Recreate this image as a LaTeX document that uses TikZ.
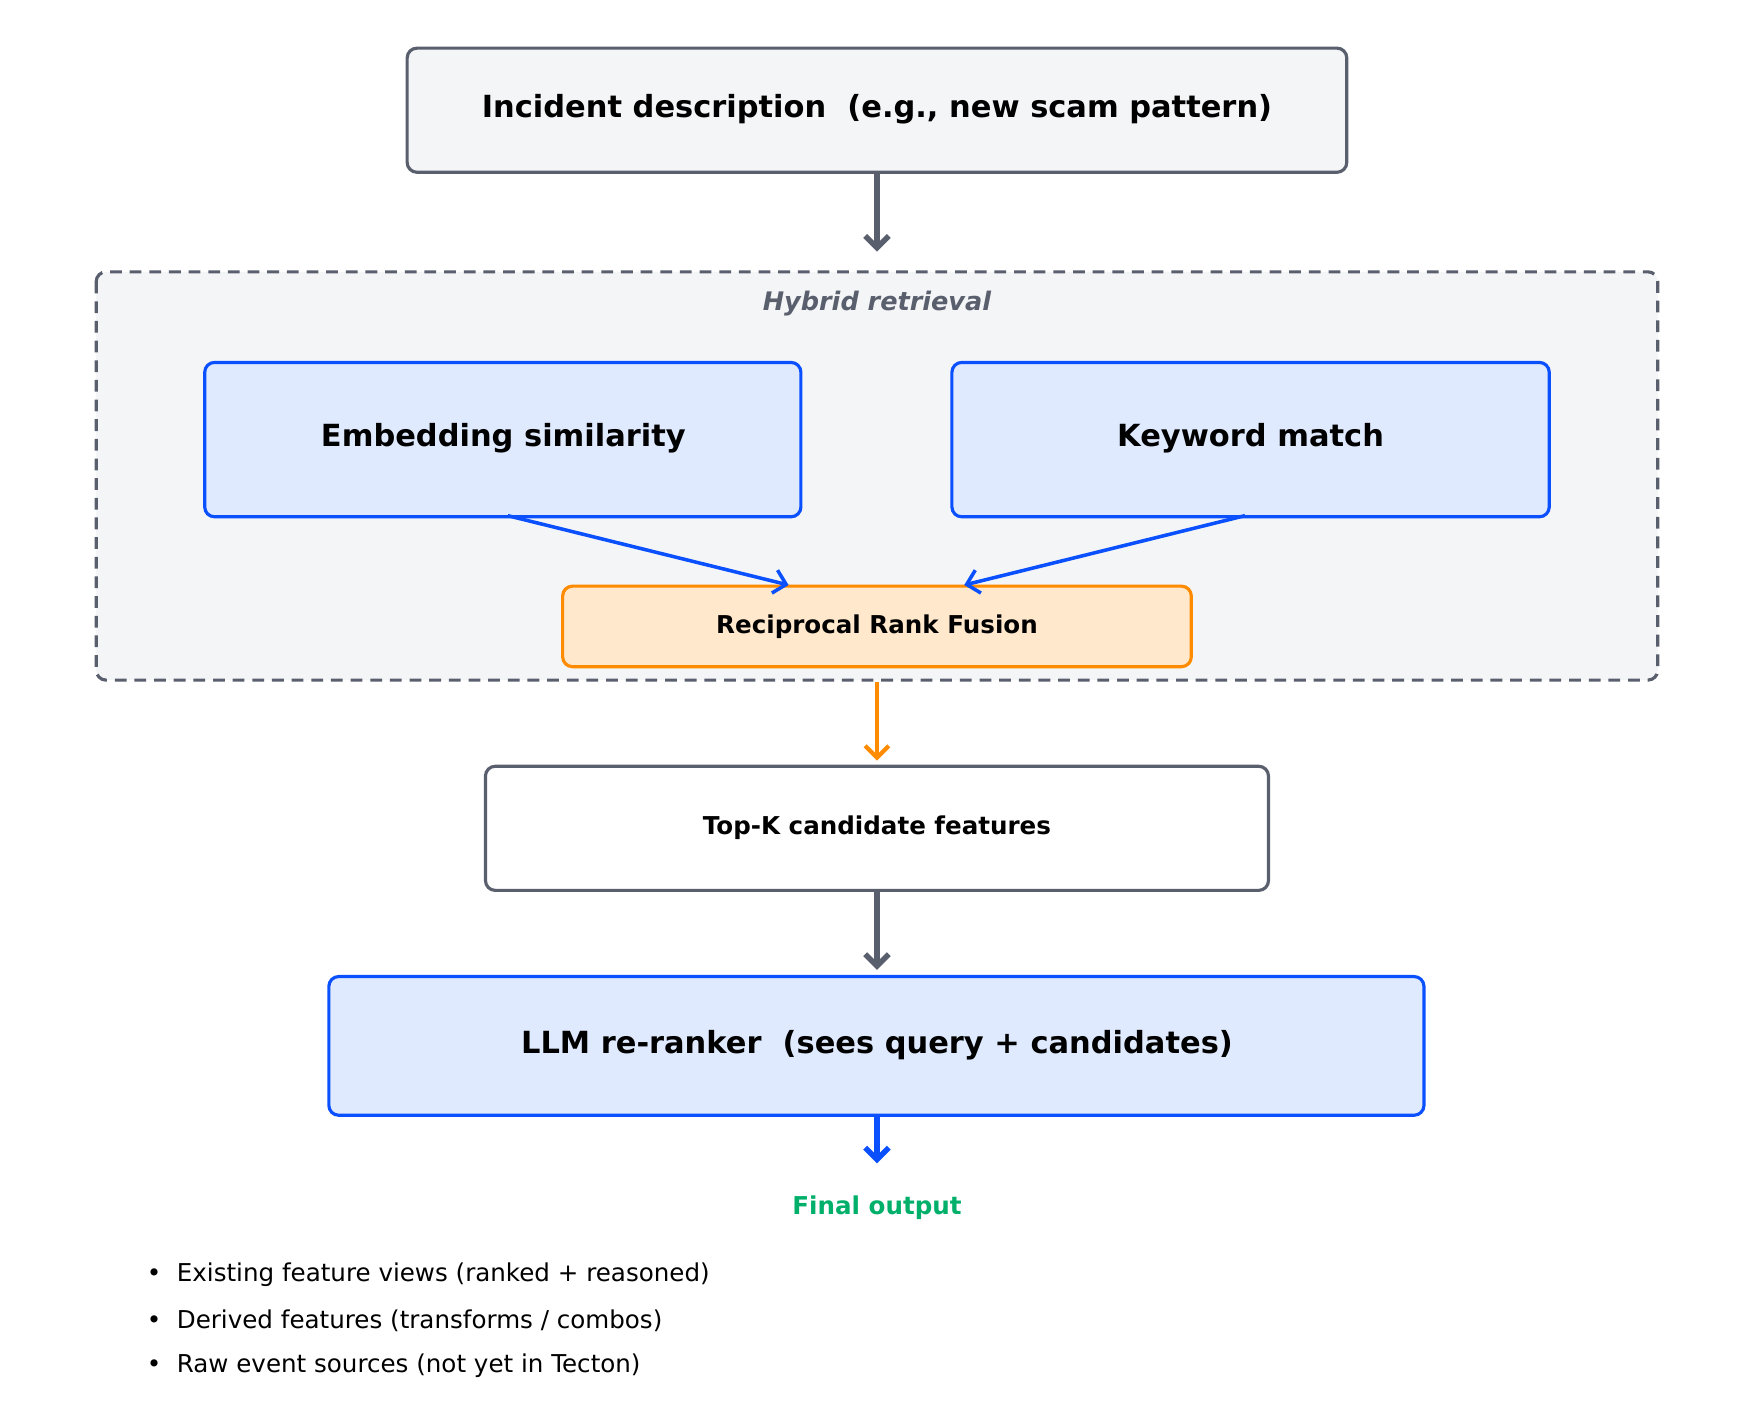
\documentclass[tikz,border=0pt]{standalone}
\usepackage{fontspec}
\setmainfont{DejaVu Sans}
\usetikzlibrary{arrows.meta}
\definecolor{gr}{HTML}{5A5F6E}
\definecolor{grf}{HTML}{F4F5F7}
\definecolor{bl}{HTML}{0A50FF}
\definecolor{blf}{HTML}{DFEAFE}
\definecolor{or}{HTML}{FF8C00}
\definecolor{orf}{HTML}{FFE8CC}
\definecolor{gn}{HTML}{00B06A}
\begin{document}
\begin{tikzpicture}[x=0.02cm,y=-0.02cm,
 box/.style={draw,rounded corners=5pt,line width=1.6pt},
 gbox/.style={box,draw=gr,fill=grf},
 bbox/.style={box,draw=bl,fill=blf},
 arr/.style={-{Straight Barb[length=6pt,width=12pt]},line width=2.2pt},
 big/.style={font=\fontsize{15.5}{18}\selectfont\bfseries},
 mid/.style={font=\fontsize{12.5}{15}\selectfont\bfseries}]
\useasboundingbox (0,0) rectangle (1560,1275);
\draw[gbox,dashed,dash pattern=on 6pt off 4pt] (86,243) rectangle (1482,608);
\node[gr,font=\fontsize{13}{15}\selectfont\bfseries\itshape] (hy) at (784,271) {Hybrid retrieval};
\draw[gbox] (364,43) rectangle (1204,154);
\node[big] (inc) at (784,98) {Incident description\ \ (e.g., new scam pattern)};
\draw[bbox] (183,324) rectangle (716,462);
\node[big] (emb) at (450,392) {Embedding similarity};
\draw[bbox] (851,324) rectangle (1385,462);
\node[big] (kw) at (1118,392) {Keyword match};
\draw[box,draw=or,fill=orf] (503,524) rectangle (1065,596);
\node[mid] (rrf) at (784,560) {Reciprocal Rank Fusion};
\draw[box,draw=gr,fill=white] (434,685) rectangle (1134,796);
\node[mid] (tk) at (784,740) {Top-K candidate features};
\draw[bbox] (294,873) rectangle (1273,997);
\node[big] (llm) at (784,934) {LLM re-ranker\ \ (sees query + candidates)};
\node[gn,mid] (fo) at (784,1080) {Final output};
\node[anchor=west,font=\fontsize{12.5}{15}\selectfont] (b1) at (125,1140) {•\ \ Existing feature views (ranked + reasoned)};
\node[anchor=west,font=\fontsize{12.5}{15}\selectfont] (b2) at (125,1181) {•\ \ Derived features (transforms / combos)};
\node[anchor=west,font=\fontsize{12.5}{15}\selectfont] (b3) at (125,1221) {•\ \ Raw event sources (not yet in Tecton)};
\coordinate (a1) at (784,154); \coordinate (a2) at (784,225);
\coordinate (e1) at (454,461); \coordinate (e2) at (705,523);
\coordinate (k1) at (1113,461); \coordinate (k2) at (862,523);
\coordinate (r1) at (784,610); \coordinate (r2) at (784,680);
\coordinate (t1) at (784,797); \coordinate (t2) at (784,867);
\coordinate (l1) at (784,998); \coordinate (l2) at (784,1040);
\draw[arr,gr,line width=2.8pt] (a1) -- (a2);
\draw[arr,bl,line width=1.8pt] (e1) -- (e2);
\draw[arr,bl,line width=1.8pt] (k1) -- (k2);
\draw[arr,or] (r1) -- (r2);
\draw[arr,gr,line width=2.8pt] (t1) -- (t2);
\draw[arr,bl,line width=2.8pt] (l1) -- (l2);
\end{tikzpicture}
\end{document}
